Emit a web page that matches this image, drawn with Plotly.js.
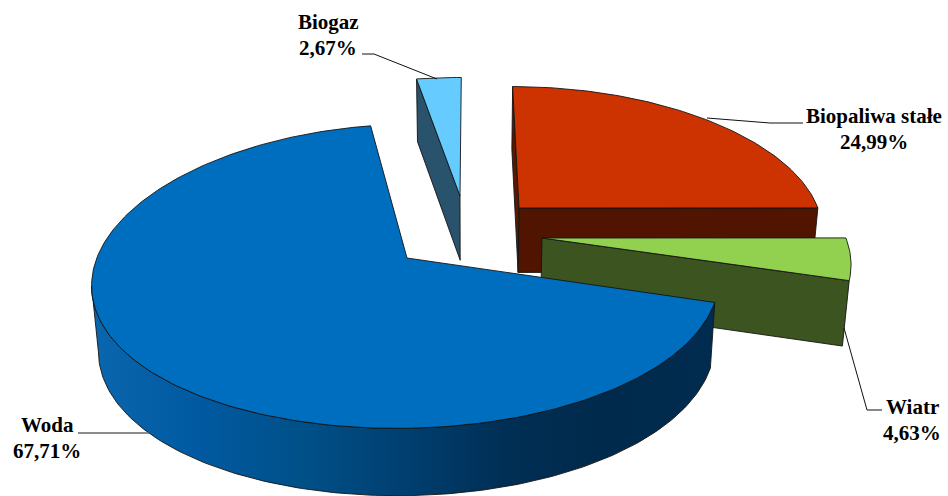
<!DOCTYPE html>
<html>
<head>
<meta charset="utf-8">
<script src="https://cdn.plot.ly/plotly-3.0.1.min.js"></script>
<style>html,body{margin:0;padding:0;background:#fff}#chart{width:948px;height:496px}</style>
</head>
<body>
<div id="chart"></div>
<script>
// Udział źródeł w produkcji energii, w procentach, w kolejności wycinków od góry zgodnie z ruchem zegara
const categories = ['Biopaliwa stałe', 'Wiatr', 'Woda', 'Biogaz'];
const shares = [24.99, 4.63, 67.71, 2.67];

const topColors = ['#CC3300', '#92D050', '#006EBE', '#66CCFF'];
const faceColors = ['#501400', '#3B5420', '#002C50', '#29536D'];
const apexX = [519, 542, 407, 460];
const apexY = [208, 238, 258, 196];
const widthFactor = [1, 0.985, 0.985, 1.04];
const labelX = [874, 912, 47, 328];
const labelY = [129, 420, 438, 35];

// Rzut perspektywiczny płaszczyzny kołowej
const horizon = 726, vanishX = 470, scale = 0.32;
const depthA = 0.000155, depthB = 0.000005, converge = 0.018;

function project(i, radius, deg) {
  const t = deg * Math.PI / 180;
  const u0 = apexY[i] + horizon;
  const x0 = (apexX[i] - vanishX) / (scale * u0);
  const c = Math.cos(t) * radius;
  const u = 1 / (1 / u0 + depthA * c + depthB * c * c);
  return { x: vanishX + scale * u * (x0 + widthFactor[i] * Math.sin(t) * radius), y: u - horizon, u };
}
function lower(p) {
  return { x: vanishX + (p.x - vanishX) * (1 - converge), y: p.y + 0.0133 * p.u + 52 };
}
function arc(i, from, to) {
  const pts = [], n = Math.max(8, Math.ceil(Math.abs(to - from)));
  for (let k = 0; k <= n; k++) pts.push(project(i, 1, from + (to - from) * k / n));
  return pts;
}
function polygon(name, pts, color, extra) {
  const closed = pts.concat([pts[0]]);
  return Object.assign({
    type: 'scatter', mode: 'lines', name, hoverinfo: 'skip', showlegend: false,
    x: closed.map(p => p.x), y: closed.map(p => p.y),
    fill: 'toself', fillcolor: color,
    line: { color: '#141414', width: 0.9 }
  }, extra || {});
}

const spans = [];
shares.reduce((start, v) => { const end = start + v * 3.6; spans.push([start, end]); return end; }, 0);

const traces = [];
// Wycinki rysowane od najdalszego do najbliższego
[3, 0, 1, 2].forEach(i => {
  const [a, b] = spans[i];
  const apex = project(i, 0, 0);
  const rim = arc(i, a, b);
  const name = categories[i];
  if (i === 2) {
    // Ściana zewnętrzna dużego wycinka kończy się na lewym skraju koła
    const leftmost = rim.reduce((best, p, k) => (p.x < rim[best].x ? k : best), 0);
    const front = rim.slice(0, leftmost + 1);
    const low = front.map(lower).reverse();
    traces.push(polygon(name + ' ściana', front.concat(low), faceColors[i], {
      fillgradient: {
        type: 'horizontal', start: 92, stop: 716,
        colorscale: [[0, '#0A66AE'], [0.18, '#0059A0'], [0.34, '#005088'], [0.5, '#003F70'],
                     [0.66, '#002F55'], [0.82, '#002A4B'], [1, '#002C50']]
      }
    }));
  } else {
    if (i === 0) {
      const s = rim[0];
      traces.push(polygon(name + ' ściana tylna', [s, apex, lower(apex), lower(s)], '#5A1800'));
    }
    const e = i === 3 ? rim[0] : rim[rim.length - 1];
    traces.push(polygon(name + ' ściana', [apex, e, lower(e), lower(apex)], faceColors[i]));
  }
  traces.push(polygon(name, [apex].concat(rim), topColors[i]));
});

const leaderLines = [
  [[803, 123], [770, 123], [707, 118]],
  [[882, 410], [867, 410], [844, 328]],
  [[78, 433], [149, 433]],
  [[362, 54], [374, 54], [437, 79]]
];
const leaderColors = ['#111', '#111', '#666', '#111'];
const shapes = leaderLines.map((pts, i) => ({
  type: 'path', xref: 'x', yref: 'y',
  path: pts.map((p, k) => (k ? 'L' : 'M') + p[0] + ',' + p[1]).join(' '),
  line: { color: leaderColors[i], width: i === 2 ? 1.4 : 1 }
}));

// Nazwa i wartość to osobne wiersze o stałym odstępie 26 px
const labelFont = { family: '"Liberation Serif", "Times New Roman", serif', size: 21, color: '#000' };
const annotations = [];
categories.forEach((c, i) => {
  [[c, -13], [shares[i].toFixed(2).replace('.', ',') + '%', 13]].forEach(([line, dy]) => {
    annotations.push({
      xref: 'x', yref: 'y', x: labelX[i], y: labelY[i] + dy, showarrow: false,
      xanchor: 'center', yanchor: 'middle', text: '<b>' + line + '</b>', font: labelFont
    });
  });
});

const hidden = { visible: false, fixedrange: true };
Plotly.newPlot('chart', traces, {
  width: 948, height: 496,
  margin: { l: 0, r: 0, t: 0, b: 0 },
  paper_bgcolor: '#fff', plot_bgcolor: '#fff',
  xaxis: Object.assign({ range: [0, 948] }, hidden),
  yaxis: Object.assign({ range: [496, 0] }, hidden),
  shapes, annotations, showlegend: false
}, { displayModeBar: false, staticPlot: true });
</script>
</body>
</html>
